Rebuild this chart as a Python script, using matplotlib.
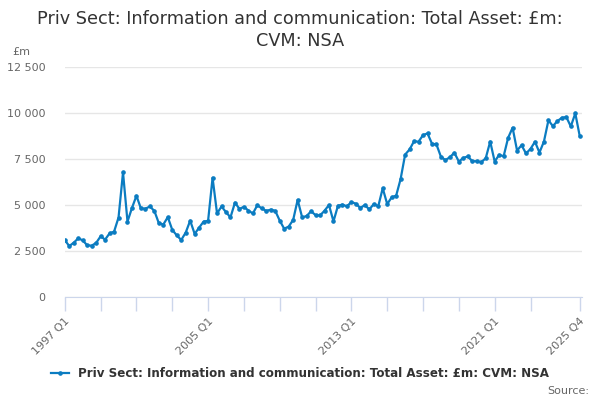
import matplotlib
matplotlib.use("Agg")
import matplotlib.pyplot as plt

# === Data: quarterly values, 1997 Q1 .. 2025 Q4 ===
values = [
    3090, 2770, 2950, 3190, 3080, 2810, 2790, 2940,
    3300, 3120, 3460, 3550, 4320, 6770, 4100, 4840,
    5500, 4810, 4800, 4920, 4680, 4010, 3940, 4340,
    3650, 3350, 3100, 3500, 4150, 3430, 3770, 4100,
    4140, 6480, 4540, 4920, 4610, 4330, 5130, 4790,
    4900, 4700, 4540, 4990, 4810, 4680, 4750, 4680,
    4150, 3710, 3830, 4190, 5280, 4330, 4400, 4660,
    4450, 4430, 4690, 5000, 4110, 4960, 5020, 4930,
    5160, 5070, 4840, 5000, 4760, 5050, 4930, 5910,
    5050, 5420, 5510, 6420, 7740, 8020, 8470, 8440,
    8800, 8890, 8330, 8290, 7620, 7440, 7600, 7840,
    7360, 7560, 7640, 7380, 7380, 7330, 7540, 8450,
    7360, 7730, 7650, 8650, 9200, 7960, 8250, 7800,
    8050, 8440, 7850, 8450, 9600, 9290, 9560, 9740,
    9780, 9270, 9980, 8740,
]
quarters = [f"{1997 + i // 4} Q{i % 4 + 1}" for i in range(len(values))]
tick_pos = list(range(0, 105, 8)) + [len(values) - 1]
label_quarters = ["1997 Q1", "2005 Q1", "2013 Q1", "2021 Q1", "2025 Q4"]
y_ticks = [0, 2500, 5000, 7500, 10000, 12500]

series_name = "Priv Sect: Information and communication: Total Asset: £m: CVM: NSA"
line_color = "#0b7cc1"

fig = plt.figure(figsize=(6, 4), dpi=100)
ax = fig.add_axes([0.108, 0.2575, 0.862, 0.575])

x = list(range(len(values)))
ax.plot(x, values, color=line_color, linewidth=1.6, marker="o",
        markersize=2.3, label=series_name)

ax.set_xlim(0, len(values) - 0.5)
ax.set_ylim(0, 12500)

# y axis: grid only, labels with space separators
ax.set_yticks(y_ticks)
ax.set_yticklabels([f"{v:,}".replace(",", " ") for v in y_ticks])
ax.yaxis.grid(True, color="#e6e6e6", linewidth=1)
ax.set_axisbelow(True)
ax.tick_params(axis="y", length=0, pad=14, labelsize=8, labelcolor="#666666")

# x axis: tick every 2 years, label every 8
ax.set_xticks(tick_pos)
ax.set_xticklabels([q if q in label_quarters else "" for q in
                    [quarters[p] for p in tick_pos]],
                   rotation=45, ha="right", rotation_mode="anchor")
ax.tick_params(axis="x", length=10, width=1, color="#ccd6eb", pad=4,
               labelsize=8, labelcolor="#666666")

for s in ["top", "right", "left"]:
    ax.spines[s].set_visible(False)
ax.spines["bottom"].set_color("#ccd6eb")

fig.text(0.02, 0.862, "£m", fontsize=8, color="#666666")
fig.suptitle("Priv Sect: Information and communication: Total Asset: £m:\nCVM: NSA",
             y=0.975, fontsize=12.7, color="#333333", linespacing=1.25)

fig.legend(loc="lower center", bbox_to_anchor=(0.5, 0.022), frameon=False,
           prop={"weight": "bold", "size": 8.6}, handlelength=1.5,
           labelcolor="#333333")
fig.text(0.982, 0.015, "Source:", fontsize=8, color="#666666", ha="right")

fig.savefig("out.png", dpi=100)
